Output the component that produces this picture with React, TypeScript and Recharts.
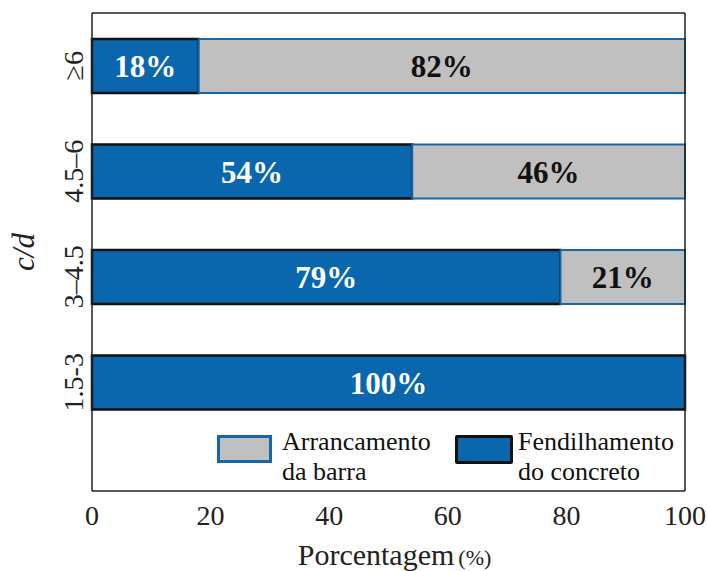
import { BarChart, Bar, XAxis, YAxis, LabelList, Legend } from 'recharts'

const categories = ['≥6', '4.5–6', '3–4.5', '1.5-3']
const fendilhamento = [18, 54, 79, 100]
const arrancamento = [82, 46, 21, 0]
const xTicks = [0, 20, 40, 60, 80, 100]
const legendItems = [
  { lines: ['Arrancamento', 'da barra'], fill: '#c0c0c0', stroke: '#1766a6' },
  { lines: ['Fendilhamento', 'do concreto'], fill: '#0a67ad', stroke: '#111' },
]

const data = categories.map((cd, i) => ({ cd, fend: fendilhamento[i], arr: arrancamento[i] }))

const SERIF = '"Liberation Serif", "Times New Roman", serif'
const BLUE = '#0a67ad'
const GRAY = '#c0c0c0'

const pct = (v: any) => (v ? `${v}%` : '')

const YTick = ({ x, y, payload }: any) => (
  <text x={x - 1} y={y} transform={`rotate(-90, ${x - 1}, ${y})`} textAnchor="middle"
        fontFamily={SERIF} fontSize={28} fill="#222">
    {payload.value}
  </text>
)

const XTick = ({ x, y, payload }: any) => (
  <text x={x} y={y + 26} textAnchor="middle" fontFamily={SERIF} fontSize={28} fill="#222">
    {payload.value}
  </text>
)

const LegendBox = () => (
  <div style={{ position: 'relative', width: 480, height: 60, fontFamily: SERIF, fontSize: 26, lineHeight: '30px', color: '#111' }}>
    {legendItems.map((it, i) => (
      <div key={i} style={{ position: 'absolute', left: i === 0 ? 0 : 238, top: 0, display: 'flex', alignItems: 'flex-start' }}>
        <div style={{ width: i === 0 ? 49 : 52, height: i === 0 ? 22 : 23, marginTop: 8, background: it.fill, border: `3px solid ${it.stroke}`, borderRadius: i === 0 ? 0 : 2 }} />
        <div style={{ marginLeft: i === 0 ? 10 : 5, textAlign: 'left' }}>
          {it.lines.map((l, j) => <div key={j}>{l}</div>)}
        </div>
      </div>
    ))}
  </div>
)

export default function App() {
  return (
    <div style={{ position: 'absolute', left: 0, top: 0, background: '#fff' }}>
      <BarChart width={707} height={571} data={data} layout="vertical"
                margin={{ top: 12, right: 21, bottom: 0, left: 0 }}>
        <XAxis type="number" domain={[0, 100]} ticks={xTicks} tickLine={false}
               axisLine={{ stroke: '#222', strokeWidth: 1.5 }} tick={<XTick />} height={80}
               label={({ viewBox }: any) => (
                 <text x={viewBox.x + viewBox.width / 2 + 6} y={viewBox.y + 74} textAnchor="middle"
                       fontFamily={SERIF} fill="#222">
                   <tspan fontSize={30}>Porcentagem</tspan>
                   <tspan fontSize={22} dx={4}>(%)</tspan>
                 </text>
               )} />
        <XAxis xAxisId="top" orientation="top" type="number" domain={[0, 100]} tick={false} tickLine={false}
               axisLine={{ stroke: '#222', strokeWidth: 1.5 }} height={1} />
        <YAxis type="category" dataKey="cd" width={92} tickLine={false} padding={{ top: 0, bottom: 56 }}
               axisLine={{ stroke: '#222', strokeWidth: 1.5 }} tick={<YTick />}
               label={({ viewBox }: any) => {
                 const cx = 34
                 const cy = viewBox.y + viewBox.height / 2
                 return (
                   <text x={cx} y={cy} transform={`rotate(-90, ${cx}, ${cy})`} textAnchor="middle"
                         fontFamily={SERIF} fontStyle="italic" fontSize={31} fill="#222">c/d</text>
                 )
               }} />
        <YAxis yAxisId="right" orientation="right" type="category" dataKey="cd" width={1} tick={false} tickLine={false}
               axisLine={{ stroke: '#222', strokeWidth: 1.5 }} />
        <Legend content={<LegendBox />} layout="vertical" verticalAlign="middle" align="center"
                wrapperStyle={{ left: 217, top: 427, width: 480, height: 60 }} />
        <Bar dataKey="fend" stackId="a" barSize={54} fill={BLUE} stroke="#111" strokeWidth={2.5} isAnimationActive={false}>
          <LabelList dataKey="fend" position="center" formatter={pct} fill="#fff"
                     style={{ fontFamily: SERIF, fontWeight: 'bold', fontSize: 31 }} />
        </Bar>
        <Bar dataKey="arr" stackId="a" barSize={54} fill={GRAY} stroke="#1766a6" strokeWidth={2} isAnimationActive={false}>
          <LabelList dataKey="arr" position="center" formatter={pct} fill="#111"
                     style={{ fontFamily: SERIF, fontWeight: 'bold', fontSize: 31 }} />
        </Bar>
      </BarChart>
    </div>
  )
}
